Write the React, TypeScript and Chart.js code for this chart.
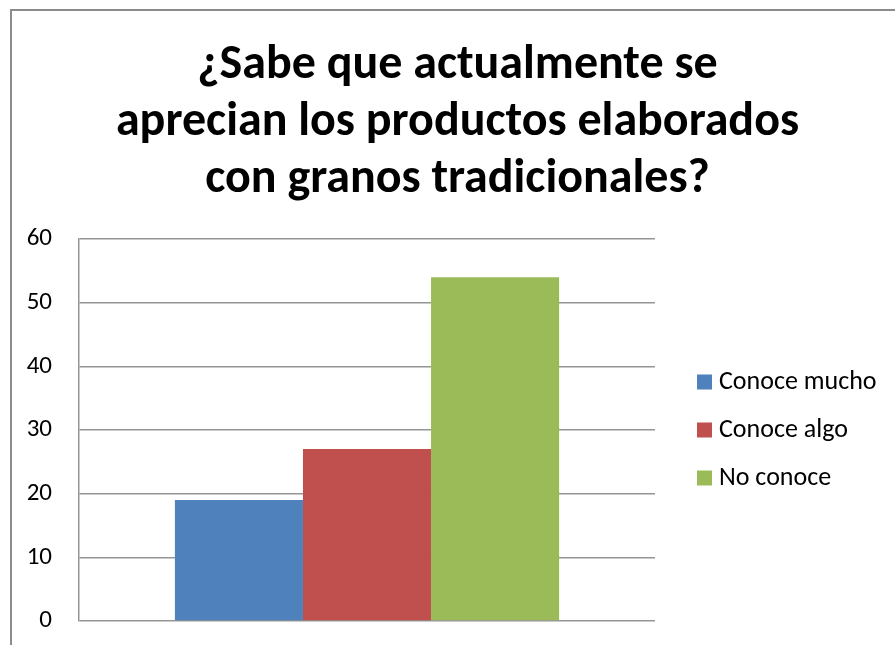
import React, { useEffect, useRef } from "react";
import { Chart, registerables } from "chart.js";

Chart.register(...registerables);

const titleLines = ["¿Sabe que actualmente se", "aprecian los productos elaborados", "con granos tradicionales?"];
const categories = [""];
const seriesNames = ["Conoce mucho", "Conoce algo", "No conoce"];
const seriesValues = [19, 27, 54];
const seriesColors = ["#4F81BD", "#C0504D", "#9BBB59"];
const yTicks = [0, 10, 20, 30, 40, 50, 60];

const FONT = "Carlito, 'Open Sans', sans-serif";

const framePlugin = {
  id: "frame",
  beforeDraw(chart: any) {
    const { ctx, width, height } = chart;
    ctx.save();
    ctx.fillStyle = "#ffffff";
    ctx.fillRect(0, 0, width, height);
    ctx.strokeStyle = "#8c8c8c";
    ctx.lineWidth = 2;
    ctx.beginPath();
    ctx.moveTo(11, height);
    ctx.lineTo(11, 10);
    ctx.lineTo(width, 10);
    ctx.stroke();
    ctx.restore();
  },
};

const titlePlugin = {
  id: "customTitle",
  afterDraw(chart: any) {
    const { ctx, width } = chart;
    const cx = (width + 20) / 2;
    ctx.save();
    ctx.font = `bold 48px ${FONT}`;
    ctx.fillStyle = "#000000";
    ctx.textAlign = "center";
    ctx.textBaseline = "alphabetic";
    titleLines.forEach((line, i) => {
      ctx.fillText(line, cx, 78 + i * 57);
    });
    ctx.restore();
  },
};

const legendPlugin = {
  id: "customLegend",
  afterDraw(chart: any) {
    const { ctx, chartArea } = chart;
    const x = chartArea.right + 42;
    const spacing = 48;
    const cy = (chartArea.top + chartArea.bottom) / 2;
    ctx.save();
    ctx.font = `26px ${FONT}`;
    ctx.textBaseline = "middle";
    ctx.textAlign = "left";
    chart.data.datasets.forEach((ds: any, i: number) => {
      const y = cy + (i - 1) * spacing;
      ctx.fillStyle = ds.backgroundColor;
      ctx.fillRect(x, y - 7.5, 15, 15);
      ctx.fillStyle = "#000000";
      ctx.fillText(ds.label, x + 22, y);
    });
    ctx.restore();
  },
};

export default function App() {
  const ref = useRef<HTMLCanvasElement>(null);
  useEffect(() => {
    if (!ref.current) return;
    const chart = new Chart(ref.current, {
      type: "bar",
      data: {
        labels: categories,
        datasets: seriesNames.map((name, i) => ({
          label: name,
          data: [seriesValues[i]],
          backgroundColor: seriesColors[i],
          borderWidth: 0,
          categoryPercentage: 0.667,
          barPercentage: 1,
        })),
      },
      options: {
        responsive: false,
        animation: false,
        layout: { autoPadding: false, padding: { left: 20, right: 240, top: 239, bottom: 24 } },
        plugins: {
          legend: { display: false },
          tooltip: { enabled: false },
          title: { display: false },
        },
        scales: {
          x: {
            display: false,
            ticks: { display: false },
            grid: { display: false },
          },
          y: {
            min: 0,
            max: 60,
            afterFit(scale: any) {
              scale.width = 59;
              scale.paddingTop = 0;
              scale.paddingBottom = 0;
            },
            afterBuildTicks(scale: any) {
              scale.ticks = yTicks.map((v) => ({ value: v }));
            },
            ticks: {
              color: "#000000",
              font: { family: FONT, size: 25 },
              padding: 27,
            },
            grid: {
              color: "#959595",
              lineWidth: 1.5,
              drawTicks: false,
            },
            border: { color: "#959595", width: 1.5 },
          },
        },
      },
      plugins: [framePlugin, titlePlugin, legendPlugin],
    });
    return () => chart.destroy();
  }, []);
  return (
    <div style={{ position: "fixed", left: 0, top: 0, width: 895, height: 645 }}>
      <canvas ref={ref} width={895} height={645} style={{ display: "block" }} />
    </div>
  );
}
